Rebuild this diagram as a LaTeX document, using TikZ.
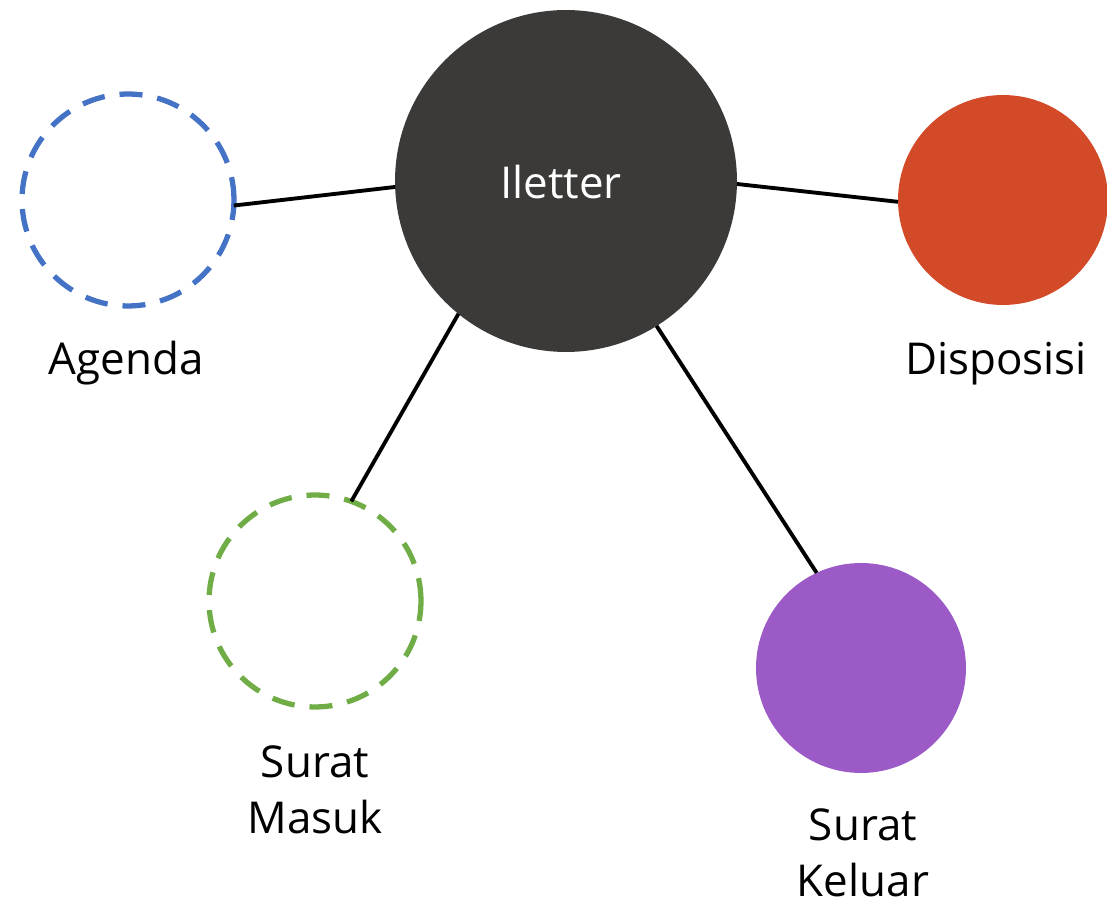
\documentclass[tikz,border=0pt]{standalone}
\usepackage{fontspec}
\setmainfont{Open Sans}
\definecolor{hubgray}{HTML}{3B3A38}
\definecolor{agendablue}{HTML}{4472C4}
\definecolor{masukgreen}{HTML}{70AD47}
\definecolor{disporange}{HTML}{D24A28}
\definecolor{keluarpurple}{HTML}{9B5AC6}
\tikzset{
  ring/.style={circle,inner sep=0pt,outer sep=0pt,minimum size=4.24cm,line width=3pt,dash pattern=on 0.46cm off 0.3cm},
  disc/.style={circle,inner sep=0pt,outer sep=0pt,minimum size=4.2cm},
  caption/.style={inner sep=0pt,align=center,font=\fontsize{25}{32}\selectfont},
  spoke/.style={line width=2.2pt,black}
}
\begin{document}
\begin{tikzpicture}[x=0.02cm,y=-0.02cm]
\useasboundingbox (0,0) rectangle (1107,905);

 \node[circle,fill=hubgray,inner sep=0pt,outer sep=0pt,minimum size=6.84cm] (hub) at (566,181) {};
 \node[inner sep=0pt,text=white,font=\fontsize{25}{32}\selectfont] (hublbl) at (561,182) {Iletter};

 \node[ring,draw=agendablue] (agenda) at (128,200) {};
 \node[ring,draw=masukgreen] (masuk) at (315,601) {};
 \node[disc,fill=disporange] (dispo) at (1003,200) {};
 \node[disc,fill=keluarpurple] (keluar) at (861,668) {};

 \node[caption,anchor=base] (agendalbl) at (126,375) {Agenda};
 \node[caption,anchor=base] (dispolbl) at (996,375) {Disposisi};
 \node[caption,anchor=north] (masuklbl) at (315,745) {Surat\\Masuk};
 \node[caption,anchor=north] (keluarlbl) at (863,808) {Surat\\Keluar};

 \draw[spoke] (agenda.-3)--(hub.182);
 \draw[spoke] (hub.-1)--(dispo.181);
 \draw[spoke] (hub.231.6)--(masuk.70);
 \draw[spoke] (hub.-58.6)--(keluar.115);

\end{tikzpicture}
\end{document}
